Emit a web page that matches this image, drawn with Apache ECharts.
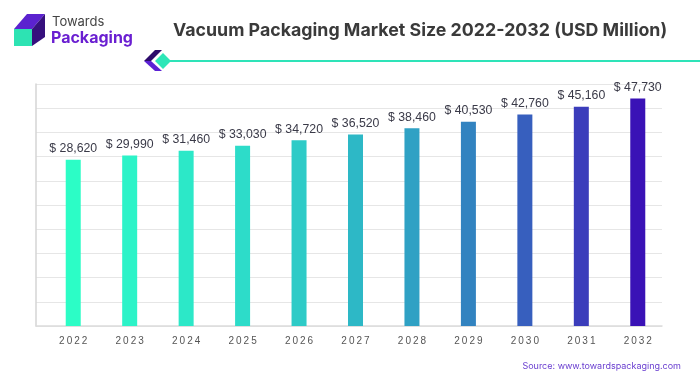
<!DOCTYPE html>
<html>
<head>
<meta charset="utf-8">
<script src="https://cdn.jsdelivr.net/npm/echarts@6/dist/echarts.min.js"></script>
<style>html,body{margin:0;padding:0;background:#fff;}#c{width:700px;height:375px;}</style>
</head>
<body>
<div id="c"></div>
<script>
const years = ['2022','2023','2024','2025','2026','2027','2028','2029','2030','2031','2032'];
const values = [28620, 29990, 31460, 33030, 34720, 36520, 38460, 40530, 42760, 45160, 47730];
const barColors = ['#2cfdc6','#2cf3c8','#2ce8c8','#2ddcc9','#2ecbc7','#2db8c6','#2fa1c4','#3283c0','#375fbe','#3b3dbb','#3a12b6'];
const title = 'Vacuum Packaging Market Size 2022-2032 (USD Million)';
const source = 'Source: www.towardspackaging.com';
const axisMin = -23330, axisMax = 52295;

const chart = echarts.init(document.getElementById('c'), null, {renderer: 'canvas'});
const fmt = v => '$ ' + v.toLocaleString('en-US');

chart.setOption({
  animation: false,
  backgroundColor: '#ffffff',
  grid: [
    {left: 36, right: 38, top: 84, bottom: 49},
    {left: 45, right: 34, top: 84, bottom: 49}
  ],
  xAxis: [
    {gridIndex: 0, type: 'category', data: [''], axisLine: {show: true, lineStyle: {color: '#dcdcdc', width: 1.5}}, axisTick: {show: false}, axisLabel: {show: false}},
    {gridIndex: 1, type: 'category', data: years, axisLine: {show: false}, axisTick: {show: false},
     axisLabel: {margin: 10, fontSize: 10, color: '#555', fontFamily: 'Liberation Sans, Arial',
       formatter: v => v.split('').join('\u2009')}}
  ],
  yAxis: [
    {gridIndex: 0, type: 'value', min: 0, max: 10, interval: 1,
     axisLine: {show: true, lineStyle: {color: '#d4d4d4', width: 1.5}}, axisTick: {show: false}, axisLabel: {show: false},
     splitLine: {show: true, lineStyle: {color: '#e6e6e6', width: 1}}},
    {gridIndex: 1, type: 'value', min: axisMin, max: axisMax, show: false, splitLine: {show: false}}
  ],
  series: [{
    type: 'custom', xAxisIndex: 1, yAxisIndex: 1,
    data: values.map((v, i) => [i, v]),
    encode: {x: 0, y: 1},
    renderItem: function (params, api) {
      const i = api.value(0), v = api.value(1);
      const top = api.coord([i, v]);
      const base = api.coord([i, axisMin]);
      const w = 15;
      return {
        type: 'group',
        children: [
          {type: 'rect', shape: {x: top[0] - w / 2, y: top[1], width: w, height: base[1] - top[1]},
           style: {fill: barColors[i]}},
          {type: 'text', x: top[0], y: top[1] - 5,
           style: {text: fmt(v), textAlign: 'center', textVerticalAlign: 'bottom',
             font: '400 12.3px Liberation Sans, Arial', fill: '#3a3a48'}}
        ]
      };
    }
  }],
  graphic: [
    {type: 'text', left: 173, top: 22, style: {text: title, font: '700 17.8px Inter, Liberation Sans, Arial', fill: '#3a3a3a'}},
    {type: 'polygon', shape: {points: [[14,29],[27,14],[45,14],[32,29]]}, style: {fill: '#5b22cf'}},
    {type: 'polygon', shape: {points: [[32,29],[45,14],[45,37],[32,46]]}, style: {fill: '#36107d'}},
    {type: 'rect', shape: {x: 14, y: 29, width: 18, height: 17}, style: {fill: '#2de3b3'}},
    {type: 'text', left: 52, top: 16, style: {text: 'Towards', font: '400 13px Inter, Liberation Sans, Arial', fill: '#444'}},
    {type: 'text', left: 51, top: 30, style: {text: 'Packaging', font: '700 16px Inter, Liberation Sans, Arial', fill: '#6a1fd1'}},
    {type: 'line', shape: {x1: 168, y1: 61, x2: 700, y2: 61}, style: {stroke: '#2ee3b8', lineWidth: 2}},
    {type: 'polygon', shape: {points: [[144,61],[155,50],[162,50],[151,61]]}, style: {fill: '#2d0a6b'}},
    {type: 'polygon', shape: {points: [[144,61],[151,61],[162,71],[155,71]]}, style: {fill: '#5b21d4'}},
    {type: 'polygon', shape: {points: [[163,53],[171,61],[163,69],[155,61]]}, style: {fill: '#2ee6b8'}},
    {type: 'text', right: 19, top: 362, style: {text: source, font: '400 9px Inter, Liberation Sans, Arial', fill: '#6a3fd0'}}
  ]
});
</script>
</body>
</html>
